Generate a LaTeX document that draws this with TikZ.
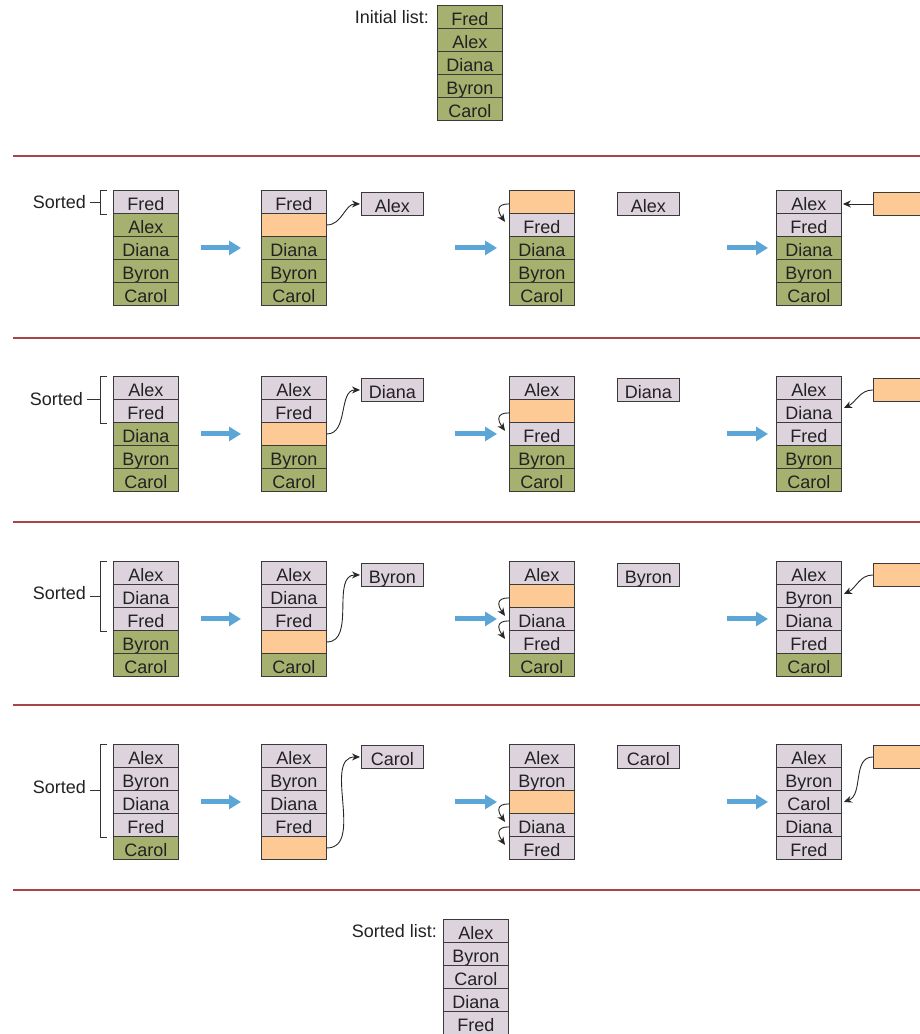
\documentclass[tikz,border=0pt]{standalone}
\usepackage{fontspec}
\setmainfont{Liberation Sans}
\usetikzlibrary{arrows.meta,calc}
\definecolor{pk}{HTML}{DDD3DD}
\definecolor{gr}{HTML}{A6B16F}
\definecolor{og}{HTML}{FDC994}
\definecolor{bl}{HTML}{5BA6D6}
\definecolor{rl}{HTML}{A84646}
\definecolor{bd}{HTML}{3A3A3A}
\definecolor{tx}{HTML}{222222}
\newcommand\stackat[4]{%
  \foreach [count=\i] \c/\t in {#4}
    \node[cell, fill=\c] (#1-\i) at (#2, #3+23*\i-23) {\t};%
}
\begin{document}
\begin{tikzpicture}[x=1pt,y=-1pt,
  cell/.style={draw=bd, line width=0.9pt, minimum width=65pt, minimum height=23pt,
    inner sep=0pt, anchor=north west, text=tx, font=\fontsize{18}{20}\selectfont,
    text height=17pt, text depth=0pt},
  xbox/.style={cell, minimum width=62pt},
  redline/.style={draw=rl, line width=1.8pt},
  bigarrow/.style={draw=bl, line width=5pt, -{Triangle[length=12pt,width=14pt]}},
  linkarrow/.style={draw=black!85, line width=0.9pt, -{Stealth[length=8pt,width=7pt]}},
  thinl/.style={draw=black!80, line width=0.8pt},
  lbl/.style={anchor=east, inner xsep=4pt, inner ysep=0pt, text=tx, font=\fontsize{18}{20}\selectfont},
  dn/.style={out=180,in=125,looseness=1.8},
]
\useasboundingbox (0,0) rectangle (920,1034);
\clip (0,0) rectangle (920,1034);

% initial list
\stackat{init}{437}{5}{gr/Fred,gr/Alex,gr/Diana,gr/Byron,gr/Carol}
\node[lbl] (il) at ([xshift=-4pt]init-1.west) {Initial list:};

% separators
\foreach \yy in {156,338,522,705,890} \draw[redline] (13,\yy) -- (920,\yy);

% ---------- row 1 ----------
\stackat{a1}{113}{190}{pk/Fred,gr/Alex,gr/Diana,gr/Byron,gr/Carol}
\stackat{a2}{261}{190}{pk/Fred,og/{},gr/Diana,gr/Byron,gr/Carol}
\node[xbox,fill=pk] (a2x) at (361,192) {Alex};
\stackat{a3}{509}{190}{og/{},pk/Fred,gr/Diana,gr/Byron,gr/Carol}
\node[xbox,fill=pk] (a3x) at (617,192) {Alex};
\stackat{a4}{776}{190}{pk/Alex,pk/Fred,gr/Diana,gr/Byron,gr/Carol}
\node[xbox,fill=og] (a4x) at (873,192) {};
\draw[thinl] ([xshift=-6pt]a1-1.north west) -- ++(-7,0) -- ([xshift=-13pt]a1-1.south west) -- ++(7,0);
\coordinate (m1) at ($([xshift=-13pt]a1-1.north west)!0.5!([xshift=-13pt]a1-1.south west)$);
\node[lbl] (s1) at ([xshift=-10pt]m1) {Sorted};
\draw[thinl] (s1.east) -- (m1);
\draw[bigarrow] ([xshift=22pt]a1-3.east) -- ([xshift=-20pt]a2-3.west);
\draw[bigarrow] ([xshift=-54pt]a3-3.west) -- ([xshift=-12pt]a3-3.west);
\draw[bigarrow] ([xshift=-49pt]a4-3.west) -- ([xshift=-8pt]a4-3.west);
\draw[linkarrow] (a2-2.east) to[out=0,in=180] ([xshift=-1pt]a2x.west);
\draw[linkarrow] ([yshift=10pt]a3-1.south west) to[dn] ([xshift=-4pt,yshift=-8pt]a3-1.south west);
\draw[linkarrow] (a4x.west) -- ([xshift=1pt]a4x.west -| a4-1.east);

% ---------- row 2 ----------
\stackat{b1}{113}{376}{pk/Alex,pk/Fred,gr/Diana,gr/Byron,gr/Carol}
\stackat{b2}{261}{376}{pk/Alex,pk/Fred,og/{},gr/Byron,gr/Carol}
\node[xbox,fill=pk] (b2x) at (361,378) {Diana};
\stackat{b3}{509}{376}{pk/Alex,og/{},pk/Fred,gr/Byron,gr/Carol}
\node[xbox,fill=pk] (b3x) at (617,378) {Diana};
\stackat{b4}{776}{376}{pk/Alex,pk/Diana,pk/Fred,gr/Byron,gr/Carol}
\node[xbox,fill=og] (b4x) at (873,378) {};
\draw[thinl] ([xshift=-6pt]b1-1.north west) -- ++(-7,0) -- ([xshift=-13pt]b1-2.south west) -- ++(7,0);
\coordinate (m2) at ($([xshift=-13pt]b1-1.north west)!0.5!([xshift=-13pt]b1-2.south west)$);
\node[lbl] (s2) at ([xshift=-13pt]m2) {Sorted};
\draw[thinl] (s2.east) -- (m2);
\draw[bigarrow] ([xshift=22pt]b1-3.east) -- ([xshift=-20pt]b2-3.west);
\draw[bigarrow] ([xshift=-54pt]b3-3.west) -- ([xshift=-12pt]b3-3.west);
\draw[bigarrow] ([xshift=-49pt]b4-3.west) -- ([xshift=-8pt]b4-3.west);
\draw[linkarrow] (b2-3.east) to[out=0,in=180] ([xshift=-1pt]b2x.west);
\draw[linkarrow] ([yshift=10pt]b3-2.south west) to[dn] ([xshift=-4pt,yshift=-8pt]b3-2.south west);
\draw[linkarrow] (b4x.west) to[out=180,in=25] ([xshift=2pt,yshift=3pt]b4-2.east);

% ---------- row 3 ----------
\stackat{c1}{113}{561}{pk/Alex,pk/Diana,pk/Fred,gr/Byron,gr/Carol}
\stackat{c2}{261}{561}{pk/Alex,pk/Diana,pk/Fred,og/{},gr/Carol}
\node[xbox,fill=pk] (c2x) at (361,563) {Byron};
\stackat{c3}{509}{561}{pk/Alex,og/{},pk/Diana,pk/Fred,gr/Carol}
\node[xbox,fill=pk] (c3x) at (617,563) {Byron};
\stackat{c4}{776}{561}{pk/Alex,pk/Byron,pk/Diana,pk/Fred,gr/Carol}
\node[xbox,fill=og] (c4x) at (873,563) {};
\draw[thinl] ([xshift=-6pt]c1-1.north west) -- ++(-7,0) -- ([xshift=-13pt]c1-3.south west) -- ++(7,0);
\coordinate (m3) at ($([xshift=-13pt]c1-1.north west)!0.5!([xshift=-13pt]c1-3.south west)$);
\node[lbl] (s3) at ([xshift=-10pt,yshift=3pt]m3) {Sorted};
\draw[thinl] ([yshift=-3pt]s3.east) -- (m3);
\draw[bigarrow] ([xshift=22pt]c1-3.east) -- ([xshift=-20pt]c2-3.west);
\draw[bigarrow] ([xshift=-54pt]c3-3.west) -- ([xshift=-12pt]c3-3.west);
\draw[bigarrow] ([xshift=-49pt]c4-3.west) -- ([xshift=-8pt]c4-3.west);
\draw[linkarrow] (c2-4.east) to[out=0,in=180] ([xshift=-1pt]c2x.west);
\draw[linkarrow] ([yshift=10pt]c3-2.south west) to[dn] ([xshift=-4pt,yshift=-8pt]c3-2.south west);
\draw[linkarrow] ([yshift=10pt]c3-3.south west) to[dn] ([xshift=-4pt,yshift=-8pt]c3-3.south west);
\draw[linkarrow] (c4x.west) to[out=180,in=25] ([xshift=2pt,yshift=2pt]c4-2.east);

% ---------- row 4 ----------
\stackat{d1}{113}{744}{pk/Alex,pk/Byron,pk/Diana,pk/Fred,gr/Carol}
\stackat{d2}{261}{744}{pk/Alex,pk/Byron,pk/Diana,pk/Fred,og/{}}
\node[xbox,fill=pk] (d2x) at (361,745) {Carol};
\stackat{d3}{509}{744}{pk/Alex,pk/Byron,og/{},pk/Diana,pk/Fred}
\node[xbox,fill=pk] (d3x) at (617,745) {Carol};
\stackat{d4}{776}{744}{pk/Alex,pk/Byron,pk/Carol,pk/Diana,pk/Fred}
\node[xbox,fill=og] (d4x) at (873,745) {};
\draw[thinl] ([xshift=-6pt]d1-1.north west) -- ++(-7,0) -- ([xshift=-13pt]d1-4.south west) -- ++(7,0);
\coordinate (m4) at ($([xshift=-13pt]d1-1.north west)!0.5!([xshift=-13pt]d1-4.south west)$);
\node[lbl] (s4) at ([xshift=-10pt,yshift=3pt]m4) {Sorted};
\draw[thinl] ([yshift=-3pt]s4.east) -- (m4);
\draw[bigarrow] ([xshift=22pt]d1-3.east) -- ([xshift=-20pt]d2-3.west);
\draw[bigarrow] ([xshift=-54pt]d3-3.west) -- ([xshift=-12pt]d3-3.west);
\draw[bigarrow] ([xshift=-49pt]d4-3.west) -- ([xshift=-8pt]d4-3.west);
\draw[linkarrow] (d2-5.east) to[out=0,in=180] ([xshift=-1pt]d2x.west);
\draw[linkarrow] ([yshift=10pt]d3-3.south west) to[dn] ([xshift=-4pt,yshift=-8pt]d3-3.south west);
\draw[linkarrow] ([yshift=10pt]d3-4.south west) to[dn] ([xshift=-4pt,yshift=-8pt]d3-4.south west);
\draw[linkarrow] (d4x.west) to[out=180,in=20] ([xshift=2pt]d4-3.east);

% sorted list
\stackat{fin}{443}{919}{pk/Alex,pk/Byron,pk/Carol,pk/Diana,pk/Fred}
\node[lbl] (sl) at ([xshift=-2pt]fin-1.west) {Sorted list:};
\end{tikzpicture}
\end{document}
